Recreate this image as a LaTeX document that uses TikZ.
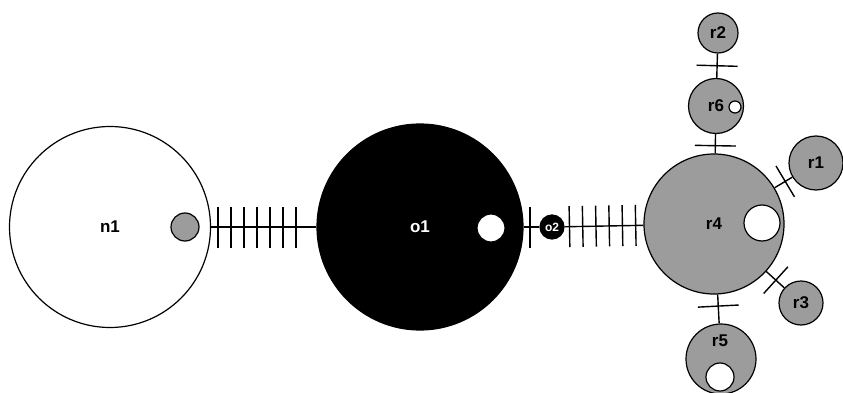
\documentclass[tikz,border=0pt]{standalone}
\usepackage{fontspec}
\setsansfont{Liberation Sans}
\usetikzlibrary{positioning,decorations.markings}
\definecolor{hapgray}{HTML}{9C9C9C}

\begin{document}
\begin{tikzpicture}[
  x=1pt, y=-1pt,
  hap/.style  ={circle,draw,line width=1.2pt,inner sep=0pt,fill=white,
                font=\fontsize{17}{19}\selectfont\sffamily\bfseries},
  gap/.style  ={hap,fill=hapgray},
  oap/.style  ={hap,fill=black,text=white},
  dot/.style  ={circle,draw,line width=1.2pt,inner sep=0pt},
  link/.style ={line width=1.4pt},
  muts/.style 2 args={link,postaction={decorate},decoration={markings,
                mark=between positions #1 step #2 with
                {\draw[link] (0pt,-20.5pt) -- (0pt,20.5pt);}}},
  mut/.style  ={link,postaction={decorate},decoration={markings,
                mark=at position #1 with
                {\draw[link] (0pt,-20.5pt) -- (0pt,20.5pt);}}},
  smut/.style ={link,postaction={decorate},decoration={markings,
                mark=at position #1 with
                {\draw[link] (0pt,-18pt) -- (0pt,18pt);}}},
]
\useasboundingbox (0,0) rectangle (843,393);
%% Main haplotypes
\node[hap,minimum size=201] (n1) at (110,227) {n1};
\node[oap,minimum size=206] (o1) at (420,227) {o1};
\node[oap,minimum size=24,font=\fontsize{12}{14}\selectfont\sffamily\bfseries]
  (o2) at (552,227) {o2};
\node[gap,minimum size=140] (r4) at (714,224) {r4};
%% Satellites of r4
\node[gap,minimum size=55] (r6) at (716,106) {r6};
\node[gap,minimum size=40] (r2) at (718,33)  {r2};
\node[gap,minimum size=54] (r1) at (816,163) {r1};
\node[gap,minimum size=44] (r3) at (801,303) {r3};
\node[gap,minimum size=70] (r5) at (721,359) {};
\node[font=\fontsize{17}{19}\selectfont\sffamily\bfseries] (r5lbl) at (720,341) {r5};
%% Inner dots
\node[dot,fill=hapgray,minimum size=28] (n1dot) at (185,227) {};
\node[dot,fill=white,minimum size=28]   (o1dot) at (491,228) {};
\node[dot,fill=white,minimum size=36]   (r4dot) at (762,223) {};
\node[dot,fill=white,minimum size=12]   (r6dot) at (735,107) {};
\node[dot,fill=white,minimum size=28]   (r5dot) at (720,377) {};
%% n1 -- o1 (8 steps)
\draw[muts={0.065 and 0.93}{0.1236}] (n1) -- (o1);
%% o1 -- o2 -- r4
\draw[mut=0.4] (o1) -- (o2);
\draw[muts={0.062 and 0.91}{0.168}] (o2) -- (r4);
%% r4 star
\draw[mut=0.4]   (r4) -- (r6);
\draw[mut=0.5]   (r6) -- (r2);
\draw[smut=0.6]  (r4) -- (r1);
\draw[smut=0.53] (r4) -- (r3);
\draw[mut=0.4]   (r4) -- (r5);
\end{tikzpicture}
\end{document}
